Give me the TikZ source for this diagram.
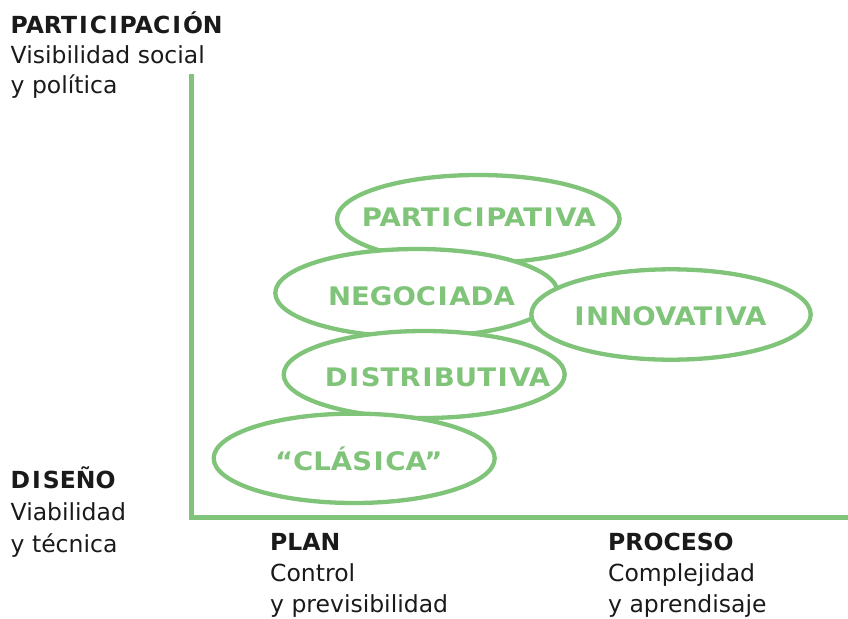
\documentclass[tikz,border=0pt]{standalone}
\usepackage{fontspec}
\setmainfont{DejaVu Sans}
\newfontfamily\greenfont[FakeStretch=1.08]{DejaVu Sans}
\newcommand\grI{\kern1.5pt I\kern1.5pt}
\newcommand\blI{\kern2pt I\kern2pt}
\usetikzlibrary{shapes.geometric}
\definecolor{lgreen}{RGB}{128,196,122}
\definecolor{dtext}{RGB}{26,26,26}
\begin{document}
\begin{tikzpicture}[x=1pt,y=-1pt,
  axis/.style={draw=lgreen,line width=4.6pt},
  oval/.style={ellipse,draw=lgreen,fill=white,line width=4.3pt,inner sep=0pt},
  ovallabel/.style={text=lgreen,font=\greenfont\fontsize{25.5}{30}\selectfont\bfseries,inner sep=0pt,anchor=base},
  lab/.style={text=dtext,anchor=base west,inner sep=0pt,align=left},
]
\useasboundingbox (0,0) rectangle (848,618);
% axes
\coordinate (top) at (191.5,74);
\coordinate (origin) at (191.5,517.5);
\coordinate (right) at (848,517.5);
\draw[axis] (top) -- (origin) -- (right);
% ellipses (drawn in stacking order)
\node[oval,minimum width=282.6pt,minimum height=88pt] (e1) at (478.3,219) {};
\node[oval,minimum width=282.6pt,minimum height=88pt] (e2) at (416.6,293) {};
\node[oval,minimum width=279.4pt,minimum height=90.4pt] (e3) at (671,314.5) {};
\node[oval,minimum width=281pt,minimum height=87pt] (e4) at (424.2,374.5) {};
\node[oval,minimum width=281pt,minimum height=89.4pt] (e5) at (354.2,458.3) {};
% ellipse labels
\node[ovallabel] (t1) at (479,226.7) {PART\grI C\grI PAT\grI VA};
\node[ovallabel] (t2) at (421.5,305) {NEGOC\grI ADA};
\node[ovallabel] (t3) at (669.7,325) {\grI NNOVAT\grI VA};
\node[ovallabel] (t4) at (437.5,386.7) {D\grI STR\grI BUT\grI VA};
\node[ovallabel] (t5) at (358.8,470) {“CLÁS\grI CA”};
% axis labels
\node[lab,font=\fontsize{23.5}{30}\selectfont] (ylabtop) at (10.5,93) {\textbf{PART\blI C\blI PAC\blI ÓN}\\Visibilidad social\\y política};
\node[lab,font=\fontsize{23.5}{32}\selectfont] (ylabbot) at (10.5,552) {\textbf{D\blI SEÑO}\\Viabilidad\\y técnica};
\node[lab,font=\fontsize{23.5}{31}\selectfont] (xlableft) at (270,612) {\textbf{PLAN}\\Control\\y previsibilidad};
\node[lab,font=\fontsize{23.5}{31}\selectfont] (xlabright) at (608,612) {\textbf{PROCESO}\\Complejidad\\y aprendisaje};
\end{tikzpicture}
\end{document}
